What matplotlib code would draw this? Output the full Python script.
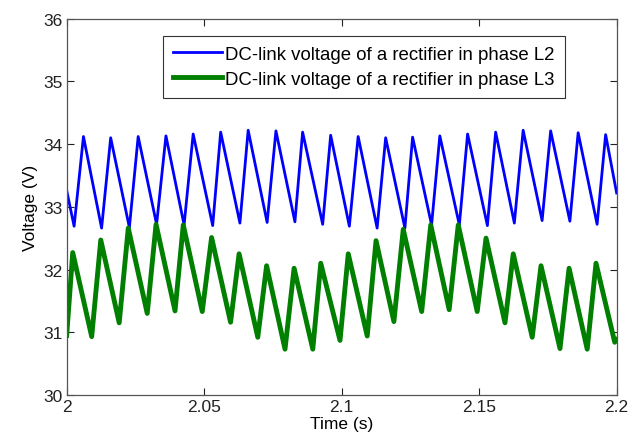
import matplotlib
matplotlib.use("Agg")
import matplotlib.pyplot as plt

plt.rcParams['font.family'] = ['Liberation Sans', 'DejaVu Sans']

# turning points (time in s, voltage in V)
l2_time = [2.0, 2.0027, 2.0061, 2.0127, 2.0160, 2.0228, 2.0260, 2.0327, 2.0361,
           2.0427, 2.0460, 2.0531, 2.0560, 2.0630, 2.0660, 2.0729, 2.0761,
           2.0830, 2.0858, 2.0931, 2.0960, 2.1028, 2.1060, 2.1129, 2.1160,
           2.1230, 2.1258, 2.1327, 2.1357, 2.1428, 2.1458, 2.1530, 2.1560,
           2.1628, 2.1660, 2.1729, 2.1760, 2.1830, 2.1860, 2.1929, 2.1960, 2.2]
l2_volt = [33.26, 32.69, 34.12, 32.66, 34.10, 32.67, 34.12, 32.72, 34.13,
           32.71, 34.16, 32.70, 34.19, 32.74, 34.22, 32.75, 34.21,
           32.76, 34.19, 32.72, 34.14, 32.69, 34.12, 32.66, 34.10,
           32.66, 34.11, 32.71, 34.13, 32.71, 34.16, 32.70, 34.19,
           32.74, 34.22, 32.78, 34.21, 32.77, 34.18, 32.72, 34.15, 33.22]

l3_time = [2.0, 2.0022, 2.0091, 2.0124, 2.0191, 2.0224, 2.0293, 2.0325, 2.0394,
           2.0424, 2.0493, 2.0527, 2.0596, 2.0627, 2.0695, 2.0727, 2.0794,
           2.0827, 2.0895, 2.0924, 2.0994, 2.1024, 2.1093, 2.1125, 2.1190,
           2.1224, 2.1291, 2.1324, 2.1391, 2.1424, 2.1493, 2.1525, 2.1594,
           2.1624, 2.1693, 2.1725, 2.1794, 2.1827, 2.1893, 2.1925, 2.1993, 2.2]
l3_volt = [30.95, 32.27, 30.93, 32.47, 31.15, 32.66, 31.30, 32.72, 31.34,
           32.71, 31.33, 32.51, 31.16, 32.25, 30.92, 32.06, 30.73,
           32.02, 30.73, 32.10, 30.87, 32.25, 30.94, 32.46, 31.17,
           32.64, 31.33, 32.71, 31.36, 32.71, 31.33, 32.50, 31.15,
           32.25, 30.92, 32.06, 30.74, 32.02, 30.73, 32.10, 30.84, 30.88]

labels = ['DC-link voltage of a rectifier in phase L2',
          'DC-link voltage of a rectifier in phase L3']
xticks = [2, 2.05, 2.1, 2.15, 2.2]
xtick_labels = ['2', '2.05', '2.1', '2.15', '2.2']
yticks = [30, 31, 32, 33, 34, 35, 36]

fig = plt.figure(figsize=(6.43, 4.35), dpi=100)
ax = fig.add_axes([0.1037, 0.0897, 0.8553, 0.8653])

ax.plot(l2_time, l2_volt, color='#0000ff', lw=2.0, solid_joinstyle='round', label=labels[0])
ax.plot(l3_time, l3_volt, color='#007f00', lw=3.5, solid_joinstyle='round', label=labels[1])

ax.set_xlim(2, 2.2)
ax.set_ylim(30, 36)
ax.set_xticks(xticks)
ax.set_xticklabels(xtick_labels)
ax.set_yticks(yticks)
ax.tick_params(direction='in', top=True, right=True, length=5, width=0.8,
               labelsize=12.5, colors='#222222', pad=3)
for s in ax.spines.values():
    s.set_color('#555555')
    s.set_linewidth(0.9)

ax.set_xlabel('Time (s)', fontsize=12.5, labelpad=1)
ax.set_ylabel('Voltage (V)', fontsize=12.5, labelpad=4)

leg = ax.legend(loc='upper left', bbox_to_anchor=(0.175, 0.955), borderaxespad=0,
                fontsize=13.4, handlelength=2.6, handletextpad=0.2,
                labelspacing=0.42, borderpad=0.55, fancybox=False,
                edgecolor='#333333', framealpha=1)
leg.get_frame().set_linewidth(0.8)

fig.savefig('out.png', dpi=100)
